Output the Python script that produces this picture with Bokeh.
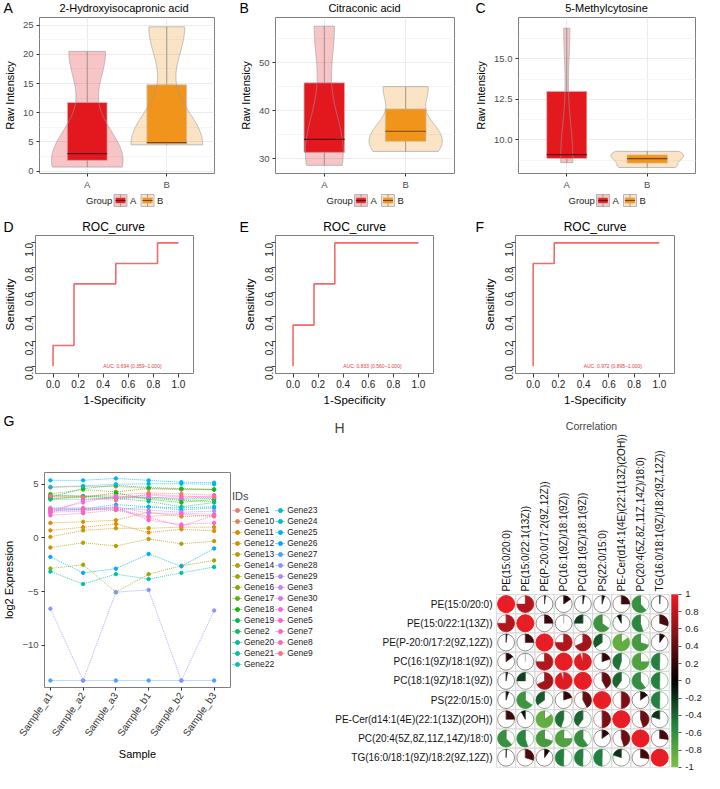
import math
import numpy as np
from bokeh.plotting import figure
from bokeh.layouts import row, column
from bokeh.models import (Label, Legend, LegendItem, FixedTicker, ColorBar, Spacer,
                          LinearColorMapper, Range1d, PrintfTickFormatter)
from bokeh.embed import file_html
from bokeh.resources import INLINE
from bokeh.core.properties import value

FONT = "Liberation Sans"

# ---------------- data: panels A-C (raw intensities, 3 samples per group)
group_names = ["A", "B"]
hydroxy_A = [0.7, 3.0, 20.5]
hydroxy_B = [4.5, 4.9, 24.7]
citra_A = [28.6, 34.0, 57.6]
citra_B = [31.5, 35.7, 45.0]
methyl_A = [8.6, 9.1, 16.9]
methyl_B = [8.3, 8.85, 9.3]
hydroxy_ticks = [0, 5, 10, 15, 20, 25]
citra_ticks = [30, 40, 50]
methyl_ticks = [10.0, 12.5, 15.0]

# ---------------- data: panels D-F (ROC coordinates)
roc_D_fpr = [0.0, 0.0, 0.167, 0.167, 0.5, 0.5, 0.833, 0.833, 1.0]
roc_D_tpr = [0.0, 0.167, 0.167, 0.667, 0.667, 0.833, 0.833, 1.0, 1.0]
roc_E_fpr = [0.0, 0.0, 0.167, 0.167, 0.333, 0.333, 1.0]
roc_E_tpr = [0.0, 0.333, 0.333, 0.667, 0.667, 1.0, 1.0]
roc_F_fpr = [0.0, 0.0, 0.167, 0.167, 1.0]
roc_F_tpr = [0.0, 0.833, 0.833, 1.0, 1.0]
auc_texts = ["AUC: 0.694 (0.359\u20131.000)", "AUC: 0.833 (0.560\u20131.000)",
             "AUC: 0.972 (0.895\u20131.000)"]
roc_ticks = [0.0, 0.2, 0.4, 0.6, 0.8, 1.0]

# ---------------- data: panel G (log2 expression)
samples = ["Sample_a1", "Sample_a2", "Sample_a3", "Sample_b1", "Sample_b2", "Sample_b3"]
gene_ids = ["Gene1", "Gene10", "Gene11", "Gene12", "Gene13", "Gene14", "Gene15",
            "Gene16", "Gene17", "Gene18", "Gene19", "Gene2", "Gene20", "Gene21",
            "Gene22", "Gene23", "Gene24", "Gene25", "Gene26", "Gene27", "Gene28",
            "Gene29", "Gene3", "Gene30", "Gene4", "Gene5", "Gene7", "Gene8", "Gene9"]
gene_expr = [
    [3.9, 3.9, 4.0, 4.2, 4.1, 4.0],
    [4.7, 4.8, 4.8, 4.6, 4.5, 4.5],
    [0.7, 1.0, 1.3, 0.5, 0.8, 0.65],
    [1.4, 1.5, 1.65, 2.4, 2.0, 2.1],
    [0.1, 0.7, 0.9, 0.9, 1.0, 1.0],
    [-0.9, -0.45, -0.75, -0.1, -0.55, -0.3],
    [-2.85, -2.5, -5.06, -3.38, -2.6, -2.1],
    [4.1, 4.5, 4.3, 4.6, 4.55, 4.55],
    [3.6, 3.9, 3.8, 3.7, 3.5, 3.4],
    [3.7, 3.8, 4.2, 3.6, 3.3, 3.6],
    [3.8, 4.6, 4.9, 4.7, 4.6, 4.5],
    [4.0, 3.9, 3.7, 3.8, 3.6, 3.7],
    [3.6, 3.6, 3.7, 3.4, 2.9, 3.3],
    [-3.14, -4.3, -3.38, -3.84, -3.26, -2.71],
    [2.5, 2.7, 2.6, 2.9, 2.8, 2.9],
    [4.75, 4.85, 5.0, 5.05, 5.05, 5.0],
    [2.7, 2.7, 3.1, 2.9, 2.6, 2.8],
    [5.37, 5.37, 5.55, 5.37, 5.2, 5.15],
    [-1.77, -3.26, -2.87, -1.5, -2.65, -0.98],
    [-13.3, -13.3, -13.3, -13.3, -13.3, -13.3],
    [-6.6, -13.3, -5.06, -4.85, -13.3, -6.77],
    [2.6, 2.6, 2.9, 2.3, 2.3, 2.2],
    [2.8, 2.8, 2.8, 2.6, 2.4, 2.5],
    [2.6, 3.3, 3.9, 3.8, 3.7, 3.8],
    [2.3, 3.5, 3.8, 4.0, 3.8, 3.9],
    [2.4, 2.5, 2.85, 1.65, 1.25, 1.4],
    [2.1, 2.3, 2.6, 1.9, 1.1, 2.1],
    [2.7, 2.7, 2.7, 2.0, 2.2, 2.0],
    [3.9, 3.8, 3.5, 4.1, 3.9, 3.8],
]
expr_ticks = [-10, -5, 0, 5]

# ---------------- data: panel H (correlation matrix)
lipids = ["PE(15:0/20:0)", "PE(15:0/22:1(13Z))", "PE(P-20:0/17:2(9Z,12Z))",
          "PC(16:1(9Z)/18:1(9Z))", "PC(18:1(9Z)/18:1(9Z))", "PS(22:0/15:0)",
          "PE-Cer(d14:1(4E)(22:1(13Z)(2OH))", "PC(20:4(5Z,8Z,11Z,14Z)/18:0)",
          "TG(16:0/18:1(9Z)/18:2(9Z,12Z))"]
corr_r1 = [1.0, 0.75, 0.02, 0.15, 0.03, 0.05, 0.25, -0.62, 0.01]
corr_r2 = [0.75, 1.0, 0.25, 0.0, -0.25, -0.65, -0.08, -0.55, 0.3]
corr_r3 = [0.02, 0.25, 1.0, 0.75, 0.68, -0.35, -0.85, -0.7, 0.1]
corr_r4 = [0.15, 0.0, 0.75, 1.0, 0.95, 0.2, -0.45, -0.75, -0.5]
corr_r5 = [0.03, -0.25, 0.68, 0.95, 1.0, 0.42, -0.4, -0.6, -0.5]
corr_r6 = [0.05, -0.65, -0.35, 0.2, 0.42, 1.0, 0.5, 0.15, -0.5]
corr_r7 = [0.25, -0.08, -0.85, -0.45, -0.4, 0.5, 1.0, 0.45, -0.2]
corr_r8 = [-0.62, -0.55, -0.7, -0.75, -0.6, 0.15, 0.45, 1.0, 0.27]
corr_r9 = [0.01, 0.3, 0.1, -0.5, -0.5, -0.5, -0.2, 0.27, 1.0]
corr_rows = [corr_r1, corr_r2, corr_r3, corr_r4, corr_r5, corr_r6, corr_r7, corr_r8, corr_r9]
cbar_ticks = [-1, -0.8, -0.6, -0.4, -0.2, 0, 0.2, 0.4, 0.6, 0.8, 1]

# ---------------- styling helpers
BOX_COLORS = ["#E3191E", "#F0941D"]
MEDIAN_COLORS = ["#5E0E10", "#7A4608"]
ROC_COLOR = "#EF6B6B"
FRAME = "#7F7F7F"


def hcl_hex(h, c=100.0, l=65.0):
    hr = math.radians(h)
    U, V = c * math.cos(hr), c * math.sin(hr)
    Xn, Yn, Zn = 95.047, 100.0, 108.883
    Y = Yn * ((l + 16) / 116) ** 3
    t = Xn + 15 * Yn + 3 * Zn
    un, vn = 4 * Xn / t, 9 * Yn / t
    u, v = U / (13 * l) + un, V / (13 * l) + vn
    X = 9.0 * Y * u / (4 * v)
    Z = -X / 3 - 5 * Y + 3 * Y / v
    X, Y, Z = X / 100, Y / 100, Z / 100
    rgb = (3.240479 * X - 1.537150 * Y - 0.498535 * Z,
           -0.969256 * X + 1.875992 * Y + 0.041556 * Z,
           0.055648 * X - 0.204043 * Y + 1.057311 * Z)
    out = []
    for ch in rgb:
        ch = 1.055 * ch ** (1 / 2.4) - 0.055 if ch > 0.0031308 else 12.92 * ch
        out.append(int(round(min(max(ch, 0.0), 1.0) * 255)))
    return "#%02X%02X%02X" % tuple(out)


CORR_STOPS = [(-1.0, (125, 194, 66)), (-0.5, (35, 128, 62)), (0.0, (0, 0, 0)),
              (0.5, (122, 16, 21)), (1.0, (236, 28, 36))]


def corr_color(r):
    r = max(-1.0, min(1.0, r))
    for (a, ca), (b, cb) in zip(CORR_STOPS[:-1], CORR_STOPS[1:]):
        if a <= r <= b:
            f = (r - a) / (b - a)
            c = [int(round(ca[k] + (cb[k] - ca[k]) * f)) for k in range(3)]
            return "#%02X%02X%02X" % tuple(c)
    return "#000000"


def kde(vals, n=256):
    x = np.asarray(vals, float)
    sd = x.std(ddof=1)
    iqr = np.percentile(x, 75) - np.percentile(x, 25)
    bw = 0.9 * min(sd, iqr / 1.34) * len(x) ** -0.2
    ys = np.linspace(x.min(), x.max(), n)
    d = np.exp(-0.5 * ((ys[:, None] - x[None, :]) / bw) ** 2).sum(1) / (len(x) * bw * math.sqrt(2 * math.pi))
    return ys, d


def style_axes(p, tick_size, label_size, tick_len=3, tick_color="#333333", label_color="#4D4D4D"):
    for ax in list(p.xaxis) + list(p.yaxis):
        ax.axis_line_color = None
        ax.major_tick_line_color = tick_color
        ax.major_tick_out = tick_len
        ax.major_tick_in = 0
        ax.minor_tick_out = 0
        ax.minor_tick_in = 0
        ax.major_label_text_font = FONT
        ax.major_label_text_font_size = tick_size
        ax.major_label_text_color = label_color
        ax.axis_label_text_font = FONT
        ax.axis_label_text_font_size = label_size
        ax.axis_label_text_font_style = "normal"
        ax.axis_label_text_color = "#000000"
        ax.major_label_standoff = 3
        ax.axis_label_standoff = 4


def text_fig(w, h):
    p = figure(width=w, height=h, x_range=Range1d(0, w), y_range=Range1d(0, h), title=None,
               x_axis_location=None, y_axis_location=None, min_border=0,
               output_backend="svg", toolbar_location=None)
    p.outline_line_color = None
    p.grid.visible = False
    return p


def header(w, h, letter, title, title_cx, title_size, yc):
    p = text_fig(w, h)
    p.text(x=[3], y=[yc], text=[letter], text_font=value(FONT), text_font_size="14px",
           text_baseline="middle", text_align="left", text_color="#000000")
    if title:
        p.text(x=[title_cx], y=[yc], text=[title], text_font=value(FONT),
               text_font_size=title_size, text_baseline="middle", text_align="center",
               text_color="#000000")
    return p


def group_footer(w, cx):
    p = text_fig(w, 16)
    yc = 8
    p.text(x=[cx - 38], y=[yc], text=["Group"], text_font=value(FONT), text_font_size="9.5px",
           text_baseline="middle", text_align="left", text_color="#222222")
    for i, g in enumerate(group_names):
        kx = cx - 10 + 27 * i
        p.quad(left=[kx], right=[kx + 13], bottom=[yc - 6], top=[yc + 6],
               fill_color=BOX_COLORS[i], fill_alpha=0.25, line_color="#A8A8A8", line_width=0.8)
        p.segment(x0=[kx + 6.5], y0=[yc - 6], x1=[kx + 6.5], y1=[yc + 6],
                  line_color="#8A8A8A", line_width=0.8)
        p.quad(left=[kx + 1.5], right=[kx + 11.5], bottom=[yc - 2.8], top=[yc + 2.8],
               fill_color=BOX_COLORS[i], line_color="#C9C9C9", line_width=0.5)
        p.segment(x0=[kx + 1.5], y0=[yc], x1=[kx + 11.5], y1=[yc],
                  line_color=MEDIAN_COLORS[i], line_width=1)
        p.text(x=[kx + 16], y=[yc], text=[g], text_font=value(FONT), text_font_size="9.5px",
               text_baseline="middle", text_align="left", text_color="#222222")
    return p


def box_plot(data_a, data_b, yr, ticks, fmt, width, left, right):
    p = figure(width=width, height=176, x_range=Range1d(0.4, 2.6), y_range=Range1d(*yr),
               title=None, output_backend="svg", toolbar_location=None,
               min_border_left=left, min_border_right=right, min_border_top=1,
               min_border_bottom=18, background_fill_color="white")
    p.outline_line_color = FRAME
    p.outline_line_width = 1
    p.xaxis.ticker = FixedTicker(ticks=[1, 2])
    p.xaxis.major_label_overrides = {1: "A", 2: "B"}
    step = ticks[1] - ticks[0]
    minors = [t + step / 2 for t in [ticks[0] - step] + ticks]
    p.yaxis.ticker = FixedTicker(ticks=ticks, minor_ticks=minors)
    p.yaxis.formatter = PrintfTickFormatter(format=fmt)
    p.yaxis.axis_label = "Raw Intensicy"
    p.xgrid.grid_line_color = "#EBEBEB"
    p.ygrid.grid_line_color = "#EBEBEB"
    p.ygrid.minor_grid_line_color = "#F5F5F5"
    style_axes(p, "9.5px", "11px")
    p.xaxis.major_label_standoff = 2

    datas = [data_a, data_b]
    dens = [kde(d) for d in datas]
    dmax = max(d.max() for _, d in dens)
    for i, (d, (ys, de)) in enumerate(zip(datas, dens)):
        cx = i + 1
        q1, med, q3 = np.percentile(d, [25, 50, 75])
        w = de / dmax * 0.45
        p.quad(left=[cx - 0.25], right=[cx + 0.25], bottom=[q1], top=[q3],
               fill_color=BOX_COLORS[i], line_color="#C9C9C9", line_width=0.8)
        vx = np.concatenate([cx - w, (cx + w)[::-1]])
        vy = np.concatenate([ys, ys[::-1]])
        p.patch(vx, vy, fill_color=BOX_COLORS[i], fill_alpha=0.25,
                line_color="#9A9A9A", line_alpha=0.8, line_width=0.8)
        p.segment(x0=[cx, cx], y0=[min(d), q3], x1=[cx, cx], y1=[q1, max(d)],
                  line_color="#8A8A8A", line_width=0.8)
        p.segment(x0=[cx - 0.25], y0=[med], x1=[cx + 0.25], y1=[med],
                  line_color=MEDIAN_COLORS[i], line_width=1.2)
    return p


def roc_plot(fpr, tpr, auc_text, width, left, right):
    p = figure(width=width, height=174, x_range=Range1d(-0.14, 1.12),
               y_range=Range1d(-0.06, 1.06), title=None,
               output_backend="svg", toolbar_location=None,
               min_border_left=left, min_border_right=right, min_border_top=1,
               min_border_bottom=33)
    p.outline_line_color = FRAME
    p.grid.visible = False
    p.xaxis.ticker = FixedTicker(ticks=roc_ticks)
    p.yaxis.ticker = FixedTicker(ticks=roc_ticks)
    p.xaxis.formatter = PrintfTickFormatter(format="%.1f")
    p.yaxis.formatter = PrintfTickFormatter(format="%.1f")
    p.yaxis.major_label_orientation = math.pi / 2
    p.xaxis.axis_label = "1-Specificity"
    p.yaxis.axis_label = "Sensitivity"
    style_axes(p, "10px", "11.5px", tick_len=4, tick_color="#444444", label_color="#222222")
    p.xaxis.major_label_standoff = 2
    p.yaxis.major_label_standoff = 2
    p.xaxis.axis_label_standoff = 3
    p.yaxis.axis_label_standoff = 3
    p.line(fpr, tpr, line_color=ROC_COLOR, line_width=1.6)
    p.add_layout(Label(x=0.4, y=0.0, text=auc_text, text_font=FONT, text_font_size="5px",
                       text_color="#E8383D", text_baseline="middle", text_align="left"))
    return p


def stack(*items):
    return column(*[row(it) for it in items])


# ---------------- row 1 (A-C)
box_specs = [
    ("A", "2-Hydroxyisocapronic acid", hydroxy_A, hydroxy_B, (-0.4, 26.3), hydroxy_ticks, "%d", 236, 33, 22),
    ("B", "Citraconic acid", citra_A, citra_B, (26.9, 59.4), citra_ticks, "%d", 236, 38, 18),
    ("C", "5-Methylcytosine", methyl_A, methyl_B, (7.93, 17.56), methyl_ticks, "%.1f", 232, 45, 9),
]
row1 = []
for letter, title, da, db, yr, ticks, fmt, w, l, r in box_specs:
    cxf = l + (w - l - r) / 2
    row1.append(stack(header(w, 16, letter, title, cxf, "11px", 9),
                      box_plot(da, db, yr, ticks, fmt, w, l, r),
                      group_footer(w, cxf)))

# ---------------- row 2 (D-F)
roc_specs = [
    ("D", roc_D_fpr, roc_D_tpr, auc_texts[0], 236, 33, 43),
    ("E", roc_E_fpr, roc_E_tpr, auc_texts[1], 236, 39, 39),
    ("F", roc_F_fpr, roc_F_tpr, auc_texts[2], 232, 43, 30),
]
row2 = []
for letter, fpr, tpr, auc, w, l, r in roc_specs:
    cxf = l + (w - l - r) / 2
    row2.append(stack(header(w, 26, letter, "ROC_curve", cxf, "12px", 8),
                      roc_plot(fpr, tpr, auc, w, l, r)))

# ---------------- row 3: G
pG = figure(width=232, height=345, x_range=Range1d(-0.18, 5.5), y_range=Range1d(-13.95, 6.1),
            title=None, output_backend="svg", toolbar_location=None,
            min_border_left=42, min_border_right=2, min_border_top=44, min_border_bottom=86)
pG.outline_line_color = FRAME
pG.grid.visible = False
x_idx = list(range(len(samples)))
pG.xaxis.ticker = FixedTicker(ticks=x_idx)
pG.xaxis.major_label_overrides = {i: s for i, s in enumerate(samples)}
pG.xaxis.major_label_orientation = math.radians(55)
pG.yaxis.ticker = FixedTicker(ticks=expr_ticks)
pG.xaxis.axis_label = "Sample"
pG.yaxis.axis_label = "log2 Expression"
style_axes(pG, "9.5px", "11px")
pG.xaxis.major_label_text_font_size = "10px"
pG.xaxis.major_label_text_color = "#333333"
n_genes = len(gene_ids)
gene_cols = [hcl_hex(15 + 360.0 * i / n_genes) for i in range(n_genes)]
for vals, col in zip(gene_expr, gene_cols):
    pG.line(x_idx, vals, line_color=col, line_dash="1 1", line_width=0.9, line_alpha=0.85)
    pG.scatter(x_idx, vals, size=3.4, fill_color=col, line_color=col)

# legend of G, in its own small figure (key glyphs sit outside the visible range)
pL = figure(width=98, height=283, x_range=Range1d(0, 1), y_range=Range1d(0, 1), title=None,
            x_axis_location=None, y_axis_location=None, min_border=0,
            output_backend="svg", toolbar_location=None)
pL.outline_line_color = None
pL.grid.visible = False
g_items = []
for gid, col in zip(gene_ids, gene_cols):
    ln = pL.line(x=[-3, -2], y=[-3, -3], line_color=col, line_dash="1 1", line_width=1)
    sc = pL.scatter(x=[-3], y=[-3], size=4, fill_color=col, line_color=col)
    g_items.append(LegendItem(label=gid, renderers=[ln, sc]))
gleg = Legend(items=g_items, title="IDs", location="top_left", nrows=15, ncols=2,
              label_text_font=FONT, label_text_font_size="8.5px", label_text_color="#222222",
              title_text_font=FONT, title_text_font_size="11px", title_text_font_style="normal",
              title_standoff=3, glyph_width=10, glyph_height=10, label_height=10,
              label_standoff=2, spacing=1, padding=2, margin=0,
              border_line_color=None, background_fill_alpha=0)
pL.add_layout(gleg, "center")

# ---------------- row 3: H
CELL = 19.2
HW, HH = 374, 365
grid_left, grid_top = 166.0, 186.0
n = len(lipids)
x0 = -0.5 - grid_left / CELL
y1 = (n - 0.5) + grid_top / CELL
pH = figure(width=HW, height=HH, x_range=Range1d(x0, x0 + HW / CELL),
            y_range=Range1d(y1 - HH / CELL, y1), title=None, output_backend="svg",
            toolbar_location=None, x_axis_location=None, y_axis_location=None, min_border=0)
pH.outline_line_color = None
pH.grid.visible = False

cx, cy, vals = [], [], []
for i, rvals in enumerate(corr_rows):
    for j, r in enumerate(rvals):
        cx.append(j)
        cy.append(n - 1 - i)
        vals.append(r)
cols = [corr_color(r) for r in vals]
R = 0.44
pH.rect(x=cx, y=cy, width=1, height=1, fill_color=None, line_color="#D6D6D6", line_width=0.8)
pH.circle(x=cx, y=cy, radius=R, fill_color="white", line_color=cols, line_alpha=0.45, line_width=1)
full = [k for k, r in enumerate(vals) if abs(r) >= 0.995]
pos = [k for k, r in enumerate(vals) if 0 < r < 0.995]
neg = [k for k, r in enumerate(vals) if -0.995 < r < 0]
pH.circle(x=[cx[k] for k in full], y=[cy[k] for k in full], radius=R,
          fill_color=[cols[k] for k in full], line_color=[cols[k] for k in full])
pH.wedge(x=[cx[k] for k in pos], y=[cy[k] for k in pos], radius=R,
         start_angle=[math.pi / 2] * len(pos),
         end_angle=[math.pi / 2 - 2 * math.pi * vals[k] for k in pos], direction="clock",
         fill_color=[cols[k] for k in pos], line_color=[cols[k] for k in pos], line_width=0.5)
pH.wedge(x=[cx[k] for k in neg], y=[cy[k] for k in neg], radius=R,
         start_angle=[math.pi / 2] * len(neg),
         end_angle=[math.pi / 2 + 2 * math.pi * abs(vals[k]) for k in neg], direction="anticlock",
         fill_color=[cols[k] for k in neg], line_color=[cols[k] for k in neg], line_width=0.5)
pH.segment(x0=cx, y0=cy, x1=cx, y1=[y + R for y in cy], line_color="#555555", line_width=0.6,
           line_alpha=0.8)
pH.text(x=[-0.5 - 4 / CELL] * n, y=[n - 1 - i for i in range(n)], text=lipids,
        text_font=value(FONT), text_font_size="10px", text_align="right",
        text_baseline="middle", text_color="#111111")
pH.text(x=list(range(n)), y=[n - 0.5 + 3 / CELL] * n, text=lipids, angle=math.pi / 2,
        text_font=value(FONT), text_font_size="10px", text_align="left",
        text_baseline="middle", text_color="#111111")
palette = [corr_color(-1 + 2 * k / 199) for k in range(200)]
mapper = LinearColorMapper(palette=palette, low=-1, high=1)
cb = ColorBar(color_mapper=mapper, ticker=FixedTicker(ticks=cbar_ticks),
              major_label_overrides={t: ("%g" % t) for t in cbar_ticks},
              location=(grid_left + n * CELL + 2, HH - grid_top - n * CELL),
              width=7, height=int(round(n * CELL)),
              orientation="vertical", padding=0, margin=0, label_standoff=4,
              major_tick_in=0, major_tick_out=3, major_tick_line_color="#555555",
              major_label_text_font=FONT, major_label_text_font_size="9.5px",
              major_label_text_color="#222222", bar_line_color=None,
              border_line_color=None, background_fill_alpha=0)
pH.add_layout(cb, "center")
pH.add_layout(Label(x=261, y=HH - 17, x_units="screen", y_units="screen", text="Correlation",
                    text_font=FONT, text_font_size="10.5px", text_align="center",
                    text_baseline="middle"))
pH.add_layout(Label(x=4, y=HH - 19, x_units="screen", y_units="screen", text="H",
                    text_font=FONT, text_font_size="14px", text_align="left",
                    text_baseline="middle"))

gcol = stack(header(232, 20, "G", None, 0, "11px", 8), pG)
lcol = column(Spacer(width=98, height=82), row(pL))
row3 = row(column(gcol), column(lcol), column(row(pH)))

layout = column(row(*[column(c) for c in row1]), row(*[column(c) for c in row2]), row3)
open("out.html", "w").write(file_html(layout, INLINE))
